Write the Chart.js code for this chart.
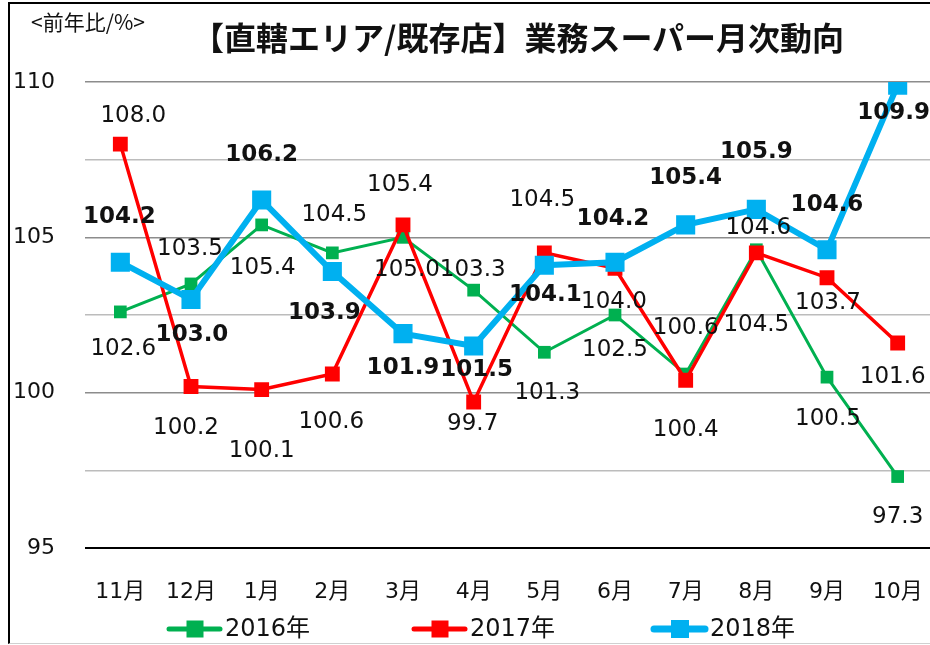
<!DOCTYPE html>
<html lang="ja">
<head>
<meta charset="utf-8">
<script src="https://cdn.jsdelivr.net/npm/chart.js"></script>
<style>
  html, body { margin: 0; padding: 0; background: #fff; overflow: hidden; width: 930px; height: 645px; }
  #frame { position: absolute; left: 8px; top: 2px; width: 940px; height: 639px; border-left: 2px solid #000; border-top: 2px solid #000; border-bottom: 1px solid #d0d0d0; }
  #c { position: absolute; left: 0; top: 0; }
  #unit { position: absolute; left: 31px; top: 6px; font: 21px "Noto Sans CJK JP"; color: #111; }
  #title { position: absolute; left: 192px; top: 13px; font: bold 32px "Noto Sans CJK JP"; color: #111; white-space: nowrap; }
</style>
</head>
<body>
<div id="frame"></div>
<canvas id="c" width="950" height="645"></canvas>
<div id="unit">&lt;前年比/%&gt;</div>
<div id="title">【直轄エリア/既存店】業務スーパー月次動向</div>
<script>
// ─── データ ───
var months = ['11月','12月','1月','2月','3月','4月','5月','6月','7月','8月','9月','10月'];
var seriesNames = ['2016年','2017年','2018年'];
var values2016 = [102.6, 103.5, 105.4, 104.5, 105.0, 103.3, 101.3, 102.5, 100.6, 104.6, 100.5, 97.3];
var values2017 = [108.0, 100.2, 100.1, 100.6, 105.4, 99.7, 104.5, 104.0, 100.4, 104.5, 103.7, 101.6];
var values2018 = [104.2, 103.0, 106.2, 103.9, 101.9, 101.5, 104.1, 104.2, 105.4, 105.9, 104.6, 109.9];
var yTicks = [95, 100, 105, 110];

// ラベルの位置調整 (点からのずれ dx, dy)
var labelShift = [
  [[3,37],[-1,-35],[1,43],[2,-38],[4,33],[-1,-20],[3,41],[0,35],[0,-46],[2,-22],[1,42],[0,40]],
  [[13,-28],[-5,42],[0,61],[-1,48],[-3,-40],[-1,22],[-2,-53],[-1,34],[0,50],[0,72],[1,25],[-5,34]],
  [[-1,-45],[1,36],[0,-45],[-8,42],[0,34],[3,24],[1,30],[-2,-43],[0,-47],[0,-57],[0,-45],[-4,28]]
];
var glow = ['rgba(150,225,130,0.95)', 'rgba(255,150,150,0.95)', 'rgba(175,195,235,0.95)'];
var legendX = [167, 412, 652];

var FONT = '"DejaVu Sans", "Noto Sans CJK JP", sans-serif';

function mkSeries(label, data, color, width, radius, order) {
  return {
    label: label, data: data,
    borderColor: color, backgroundColor: color,
    borderWidth: width,
    pointStyle: 'rect', pointRadius: radius, pointHoverRadius: radius,
    pointBorderWidth: 0, pointBackgroundColor: color,
    tension: 0, fill: false, order: order
  };
}

// ─── データラベル (光彩付き) と凡例 ───
var labelPlugin = {
  id: 'labels',
  afterDatasetsDraw: function(chart) {
    var ctx = chart.ctx;
    chart.data.datasets.forEach(function(ds, i) {
      var meta = chart.getDatasetMeta(i);
      ctx.save();
      ctx.font = (i === 2 ? 'bold ' : '') + '23px ' + FONT;
      ctx.textAlign = 'center';
      ctx.textBaseline = 'middle';
      meta.data.forEach(function(pt, j) {
        var t = ds.data[j].toFixed(1);
        var x = pt.x + labelShift[i][j][0], y = pt.y + labelShift[i][j][1];
        ctx.save();
        ctx.shadowColor = glow[i];
        ctx.shadowBlur = 8;
        ctx.fillStyle = 'rgba(255,255,255,0.01)';
        ctx.fillText(t, x, y);
        ctx.fillText(t, x, y);
        ctx.fillText(t, x, y);
        ctx.restore();
        ctx.fillStyle = '#111';
        ctx.fillText(t, x, y);
      });
      ctx.restore();
    });
  },
  afterDraw: function(chart) {
    var ctx = chart.ctx;
    var y = 629;
    chart.data.datasets.forEach(function(ds, i) {
      var x0 = legendX[i];
      ctx.save();
      ctx.strokeStyle = ds.borderColor;
      ctx.lineWidth = i === 2 ? 7 : 5;
      ctx.lineCap = 'round';
      ctx.beginPath();
      ctx.moveTo(x0 + 2, y);
      ctx.lineTo(x0 + 53, y);
      ctx.stroke();
      var s = i === 2 ? 18 : 17;
      ctx.fillStyle = ds.borderColor;
      ctx.fillRect(x0 + 28 - s / 2, y - s / 2, s, s);
      ctx.fillStyle = '#111';
      ctx.font = '24px ' + FONT;
      ctx.textBaseline = 'middle';
      ctx.fillText(ds.label, x0 + 58, y + 1);
      ctx.restore();
    });
  }
};

new Chart(document.getElementById('c'), {
  type: 'line',
  data: {
    labels: months,
    datasets: [
      mkSeries(seriesNames[0], values2016, '#00B050', 3, 9, 3),
      mkSeries(seriesNames[1], values2017, '#FF0000', 3.5, 10.5, 2),
      mkSeries(seriesNames[2], values2018, '#00B0F0', 6, 13.5, 1)
    ]
  },
  options: {
    responsive: false,
    animation: false,
    devicePixelRatio: 1,
    layout: { padding: { top: 82, right: 17, left: 0, bottom: 0 } },
    plugins: { legend: { display: false }, tooltip: { enabled: false }, title: { display: false } },
    scales: {
      x: {
        offset: true,
        afterFit: function(s) { s.height = 97; },
        grid: { display: false },
        border: { display: false },
        ticks: { color: '#111', padding: 23, font: { family: FONT, size: 22 } }
      },
      y: {
        min: 95, max: 110,
        afterFit: function(s) { s.width = 85; },
        border: { display: false },
        grid: {
          drawTicks: false,
          color: function(c) {
            var v = c.tick.value;
            if (v === 95) return '#000';
            return v % 5 === 0 ? '#8c8c8c' : '#bcbcbc';
          },
          lineWidth: function(c) { return c.tick.value === 95 ? 2 : 1.5; }
        },
        ticks: {
          stepSize: 2.5, padding: 30, color: '#111',
          font: { family: FONT, size: 22 },
          callback: function(v) { return yTicks.indexOf(v) >= 0 ? v : ''; }
        }
      }
    }
  },
  plugins: [labelPlugin]
});
</script>
</body>
</html>
